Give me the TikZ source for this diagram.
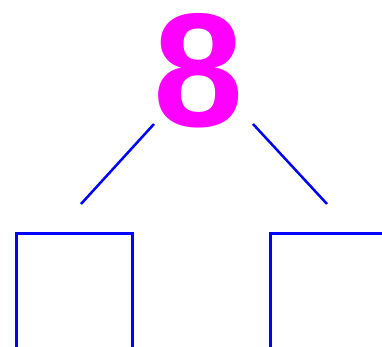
\documentclass[tikz,border=0pt]{standalone}
\usepackage{fontspec}
\setmainfont{Liberation Sans}
\usetikzlibrary{positioning}
\definecolor{cmag}{HTML}{FF00FF}
\definecolor{cblue}{HTML}{0000FF}
\tikzset{
  every picture/.style={line width=2.5pt},
  digit/.style={text=cmag, font=\fontsize{162}{162}\selectfont\bfseries, inner sep=0pt},
  branch/.style={draw=cblue, line width=2.5pt},
  slot/.style={draw=cblue, line width=2.5pt, minimum width=116pt, minimum height=130pt, anchor=north west, inner sep=0pt},
}
\begin{document}
\begin{tikzpicture}[x=1pt, y=-1pt]
  \useasboundingbox (0,0) rectangle (382,347);
  \clip (0,0) rectangle (382,347);
  \node[digit, anchor=base] (root) at (199,127) {8};
  % branch ends
  \coordinate (ltop) at (154,124);
  \coordinate (lend) at (81,204);
  \coordinate (rtop) at (253,124);
  \coordinate (rend) at (327,204);
  \draw[branch] (ltop) -- (lend);
  \draw[branch] (rtop) -- (rend);
  % open slots below
  \node[slot] (lslot) at (15,232) {};
  \node[slot] (rslot) at (269,232) {};
\end{tikzpicture}
\end{document}
